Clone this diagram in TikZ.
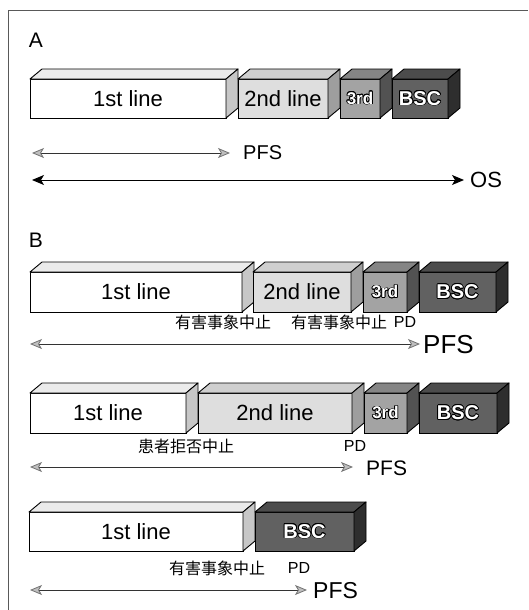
\documentclass[tikz,border=0pt]{standalone}
\usepackage{fontspec}
\setmainfont{Liberation Sans}
\newfontfamily\jp{Noto Sans CJK JP}
\usepackage[copies]{contour}
\contourlength{0.7pt}
\usetikzlibrary{arrows.meta}
\newcommand\outl[1]{\contour{black}{\textcolor{white}{#1}}}
\tikzset{
  x=1pt, y=-1pt,
  front/.style={draw=black, line width=0.9pt, inner sep=0pt, outer sep=0pt, anchor=north west, font=\fontsize{22}{25}\selectfont},
  face/.style={draw=black, line width=0.9pt, line join=round},
  lvA front/.style={fill=white},    lvA top/.style={fill=black!8},  lvA side/.style={fill=black!22},
  lvB front/.style={fill=black!13}, lvB top/.style={fill=black!19}, lvB side/.style={fill=black!38},
  lvC front/.style={fill=black!36, font=\fontsize{17}{20}\selectfont\bfseries}, lvC top/.style={fill=black!48}, lvC side/.style={fill=black!68},
  lvD front/.style={fill=black!62, font=\fontsize{20}{24}\selectfont\bfseries}, lvD top/.style={fill=black!70}, lvD side/.style={fill=black!82},
  lab/.style={inner sep=0pt, font=\fontsize{16}{19}\selectfont\jp},
  pdlab/.style={inner sep=0pt, font=\fontsize{16}{19}\selectfont},
  endlab/.style={inner sep=0pt, anchor=west},
  pfsarr/.style={draw=black!80, line width=0.8pt, {Stealth[length=12pt,width=10pt,inset=3pt,fill=black!25,color=black!55]}-{Stealth[length=12pt,width=10pt,inset=3pt,fill=black!25,color=black!55]}},
  osarr/.style={draw=black, line width=1pt, {Stealth[length=12pt,width=10pt,inset=3pt]}-{Stealth[length=12pt,width=10pt,inset=3pt]}},
  framec/.style={draw=black!65, line width=0.8pt},
  panel/.style={inner sep=0pt, font=\fontsize{21}{24}\selectfont},
}
% name, x1, x2, ytop, ybot, level, text
\newcommand\cubebox[7]{%
  \node[front, #6 front, minimum width={(#3-#2)*1pt}, minimum height={(#5-#4)*1pt}] (#1) at (#2,#4) {#7};
  \draw[face, #6 top] (#1.north west) -- ++(12,-10) -- ++(#3-#2,0) -- (#1.north east) -- cycle;
  \draw[face, #6 side] (#1.north east) -- ++(12,-10) -- ++(0,#5-#4) -- (#1.south east) -- cycle;
}
\begin{document}
\begin{tikzpicture}
\useasboundingbox (0,0) rectangle (528,610);
\draw[framec] (8,610) -- (8,10) -- (528,10);

% ---- Panel A
\node[panel] (pA) at (36,40) {A};
\cubebox{a1}{30}{226}{79}{118}{lvA}{1st line}
\cubebox{a2}{238}{328}{79}{118}{lvB}{2nd line}
\cubebox{a3}{340}{380}{79}{118}{lvC}{\outl{3rd}}
\cubebox{a4}{392}{448}{79}{118}{lvD}{\outl{BSC}}
\coordinate (aps) at (32,153); \coordinate (ape) at (230,153);
\draw[pfsarr] (aps) -- (ape);
\node[endlab, font=\fontsize{20}{24}\selectfont] (apfs) at (243,153) {PFS};
\coordinate (aos) at (32,180); \coordinate (aoe) at (464,180);
\draw[osarr] (aos) -- (aoe);
\node[endlab, font=\fontsize{22}{26}\selectfont] (aosl) at (470,180) {OS};

% ---- Panel B
\node[panel] (pB) at (36,240) {B};
% row 1
\cubebox{b1}{30}{242}{272}{312}{lvA}{1st line}
\cubebox{b2}{253}{351}{272}{312}{lvB}{2nd line}
\cubebox{b3}{363}{407}{272}{312}{lvC}{\outl{3rd}}
\cubebox{b4}{419}{496}{272}{312}{lvD}{\outl{BSC}}
\node[lab] (b1e1) at (223,322) {有害事象中止};
\node[lab] (b1e2) at (339,322) {有害事象中止};
\node[pdlab] (b1pd) at (405,322) {PD};
\coordinate (b1s) at (30,344); \coordinate (b1e) at (420,344);
\draw[pfsarr] (b1s) -- (b1e);
\node[endlab, font=\fontsize{26}{30}\selectfont] (b1pfs) at (423,345) {PFS};
% row 2
\cubebox{c1}{30}{186}{393}{433}{lvA}{1st line}
\cubebox{c2}{198}{352}{393}{433}{lvB}{2nd line}
\cubebox{c3}{364}{407}{393}{433}{lvC}{\outl{3rd}}
\cubebox{c4}{419}{497}{393}{433}{lvD}{\outl{BSC}}
\node[lab] (c1e1) at (186,446) {患者拒否中止};
\node[pdlab] (c1pd) at (355,446) {PD};
\coordinate (c1s) at (30,467); \coordinate (c1e) at (353,467);
\draw[pfsarr] (c1s) -- (c1e);
\node[endlab, font=\fontsize{21}{25}\selectfont] (c1pfs) at (366,468) {PFS};
% row 3
\cubebox{d1}{29}{243}{512}{551}{lvA}{1st line}
\cubebox{d2}{255}{354}{512}{551}{lvD}{\outl{BSC}}
\node[lab] (d1e1) at (217,568) {有害事象中止};
\node[pdlab] (d1pd) at (299,568) {PD};
\coordinate (d1s) at (30,590); \coordinate (d1e) at (307,590);
\draw[pfsarr] (d1s) -- (d1e);
\node[endlab, font=\fontsize{23}{27}\selectfont] (d1pfs) at (313,591) {PFS};
\end{tikzpicture}
\end{document}
